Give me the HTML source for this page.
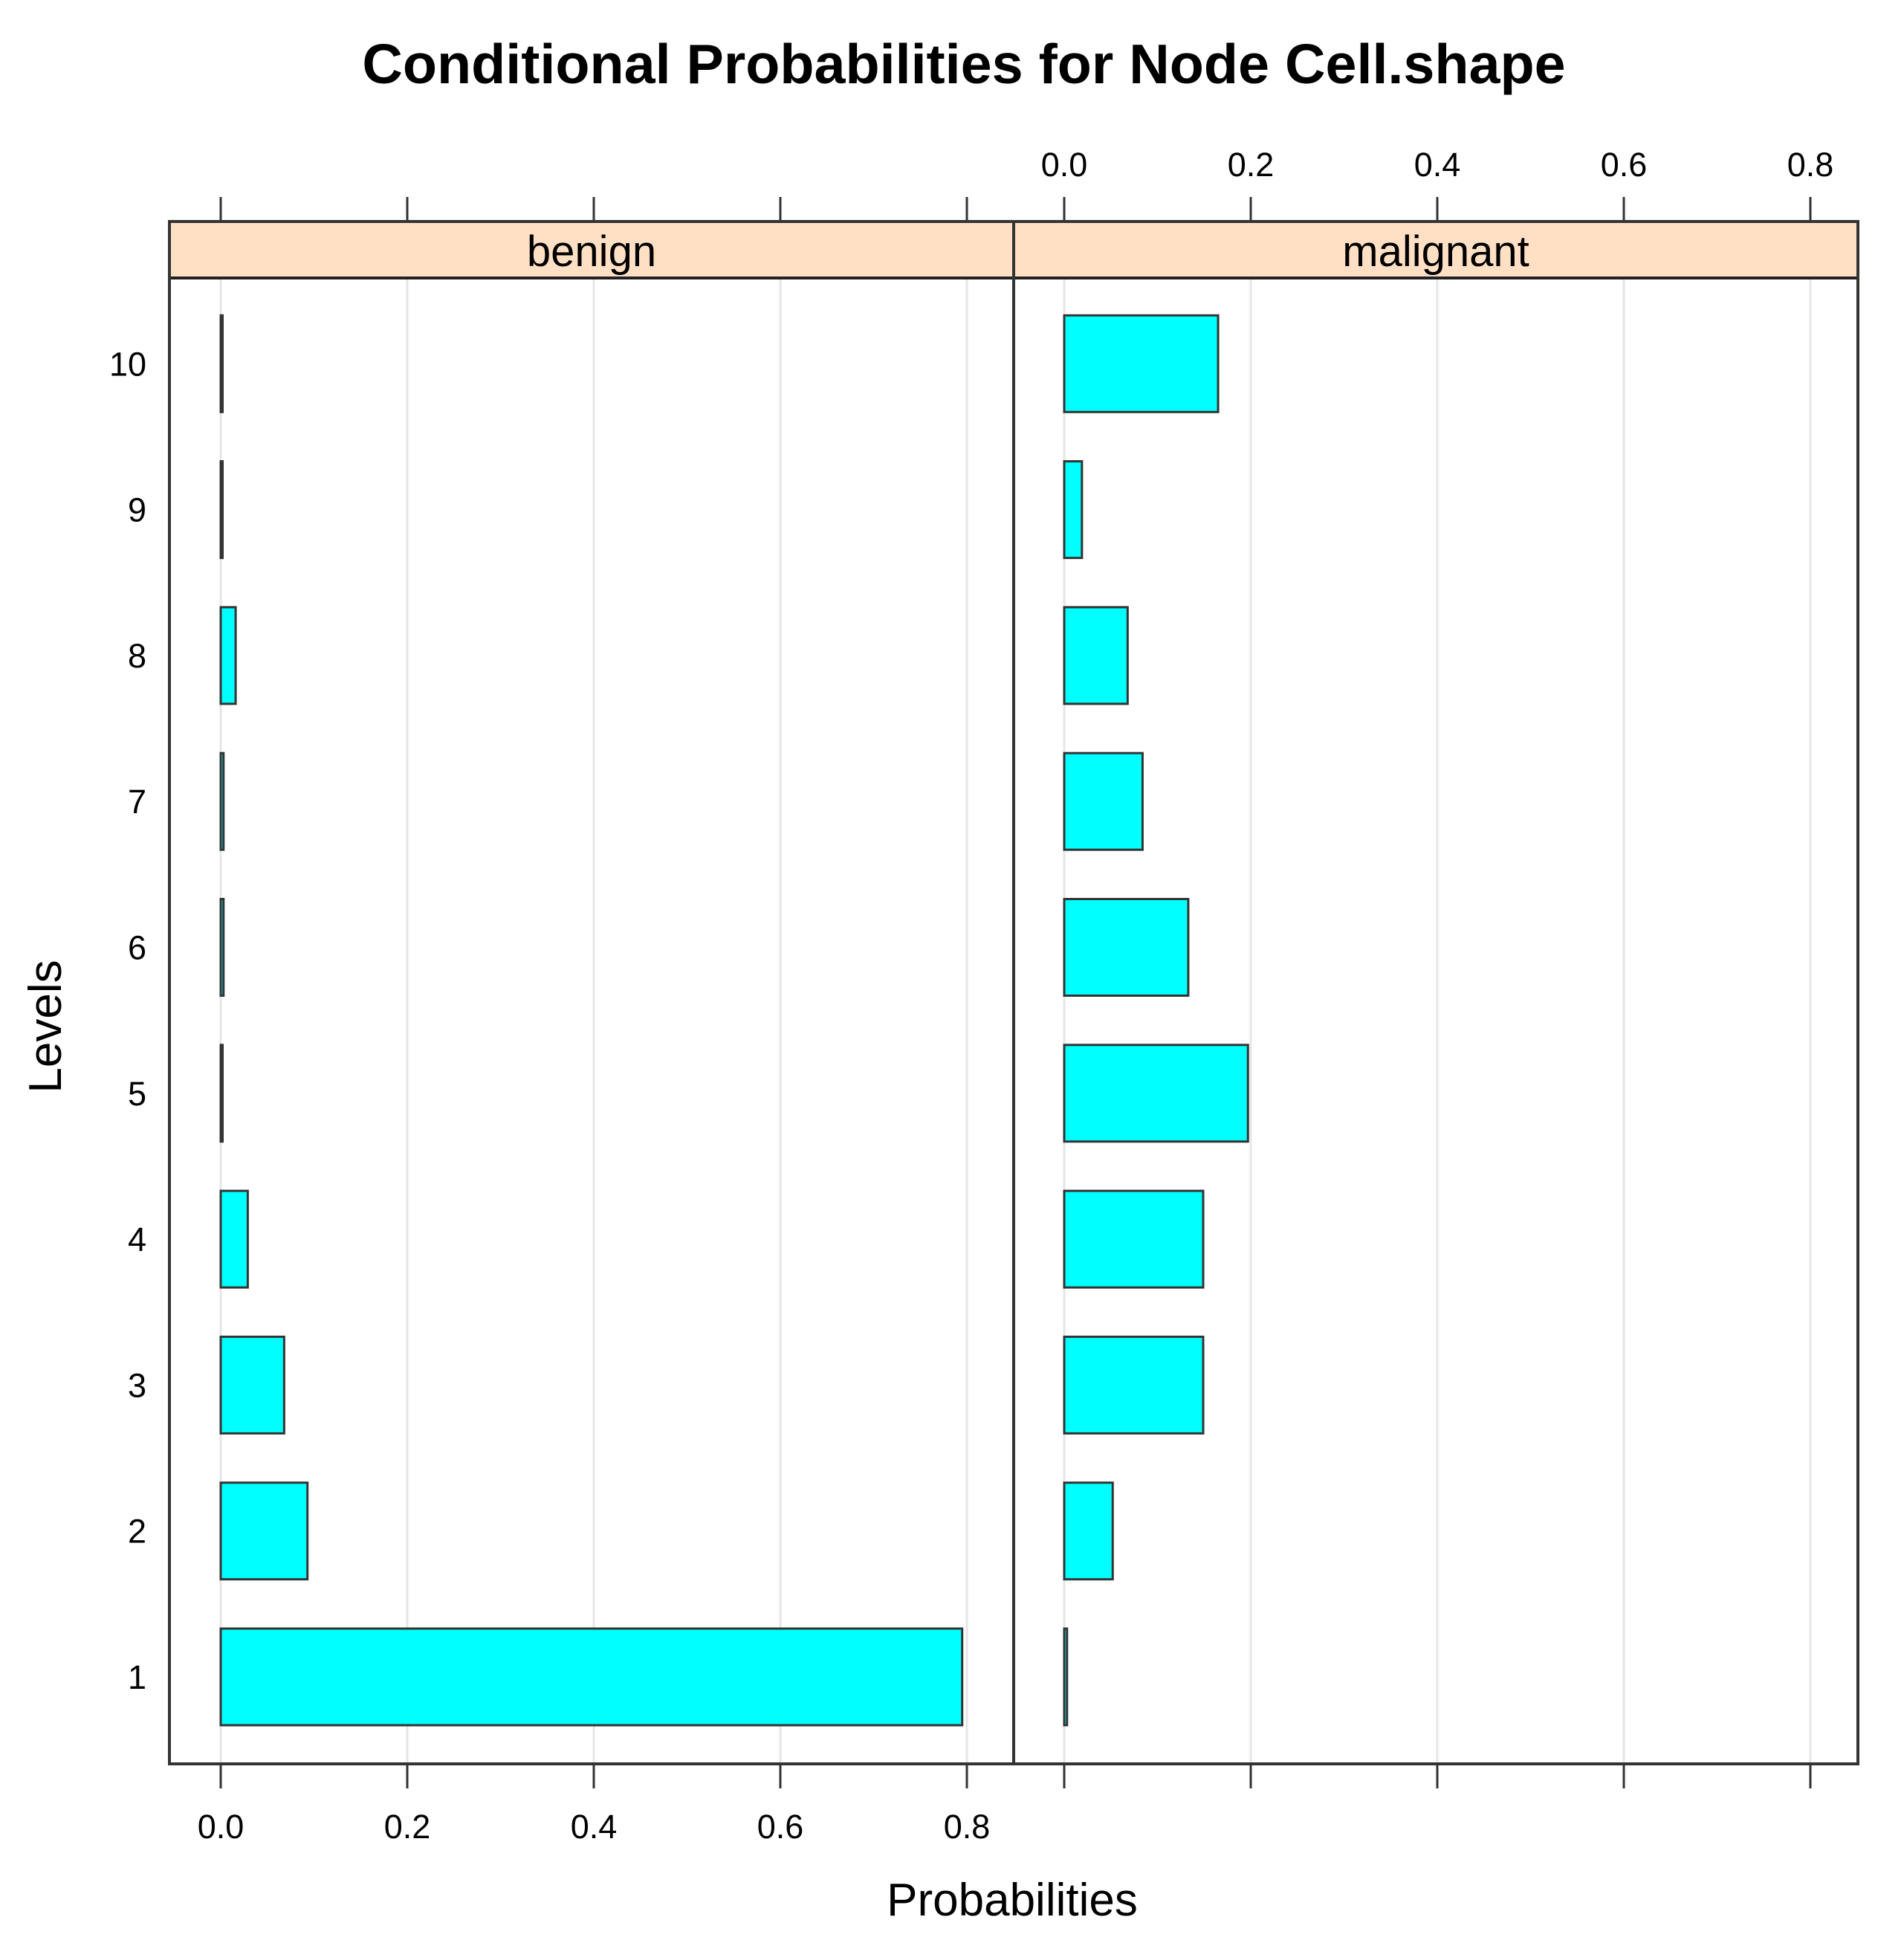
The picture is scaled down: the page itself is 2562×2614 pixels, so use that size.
<!DOCTYPE html>
<html><head><meta charset="utf-8"><style>
body{margin:0;background:#fff}
svg{display:block;font-family:"Liberation Sans",Arial,sans-serif}
</style></head><body>
<svg id="c" width="2562" height="2614" viewBox="0 0 2562 2614" xmlns="http://www.w3.org/2000/svg">
<text x="1297" y="112" font-size="75.5" font-weight="bold" text-anchor="middle">Conditional Probabilities for Node Cell.shape</text>
<g id="g"></g>
<text x="1362" y="2577" font-size="62" text-anchor="middle">Probabilities</text>
<text x="0" y="0" font-size="62" text-anchor="middle" transform="translate(82,1381) rotate(-90)">Levels</text>
</svg>
<script>
const levels=["1","2","3","4","5","6","7","8","9","10"];
const benign=[0.795,0.093,0.068,0.029,0.002,0.003,0.003,0.016,0.002,0.002];
const malignant=[0.003,0.052,0.149,0.149,0.197,0.133,0.084,0.068,0.019,0.165];
const ticks=[0,0.2,0.4,0.6,0.8];
const tickLabels=["0.0","0.2","0.4","0.6","0.8"];
const panels=["benign","malignant"];
const NS="http://www.w3.org/2000/svg";
const gEl=document.getElementById('g');
function mk(t,a){const e=document.createElementNS(NS,t);for(const k in a)e.setAttribute(k,a[k]);gEl.appendChild(e);return e;}
const plotTop=374,plotBot=2373,stripTop=298;
const panelX=[[228,1364],[1364,2500]];
const zero=[297,1432];
const unit=251/0.2;
function xs(p,v){return zero[p]+v*unit;}
function ys(i){return 2256-i*196.3;}
const bh=130;
[benign,malignant].forEach((vals,p)=>{
  const x0=panelX[p][0],x1=panelX[p][1];
  ticks.forEach(t=>{
    const l=mk('line',{x1:xs(p,t),x2:xs(p,t),y1:plotTop,y2:plotBot,stroke:'#e6e6e6','stroke-width':3});
    
    
  });
  vals.forEach((v,i)=>{
    const w=Math.max(xs(p,v)-xs(p,0),2);
    const r=mk('rect',{x:xs(p,0),y:ys(i)-bh/2,width:w,height:bh,fill:'#00ffff',stroke:'#333','stroke-width':3});
    
    
  });
  const s=mk('rect',{x:x0,y:stripTop,width:x1-x0,height:plotTop-stripTop,fill:'#ffe0c5',stroke:'#222','stroke-width':4});
  
  
  const st=mk('text',{x:(x0+x1)/2,y:358,'font-size':58,'text-anchor':'middle'});
  st.textContent=panels[p];
  
  
  const b=mk('rect',{x:x0,y:stripTop,width:x1-x0,height:plotBot-stripTop,fill:'none',stroke:'#333','stroke-width':4});
  
  
  ticks.forEach((t,k)=>{
    const tk=mk('line',{x1:xs(p,t),x2:xs(p,t),y1:265,y2:stripTop,stroke:'#333','stroke-width':3});
    
    
    const tb=mk('line',{x1:xs(p,t),x2:xs(p,t),y1:plotBot,y2:2406,stroke:'#333','stroke-width':3});
    
    
    const lb=mk('text',{x:xs(p,t),y:(p===0?2473:237),'font-size':45,'text-anchor':'middle'});
    lb.textContent=tickLabels[k];
    
    
  });
});
levels.forEach((lv,i)=>{
  const t=mk('text',{x:197,y:ys(i)+16,'font-size':45,'text-anchor':'end'});
  t.textContent=lv;
  
  
});
</script>
</body></html>
